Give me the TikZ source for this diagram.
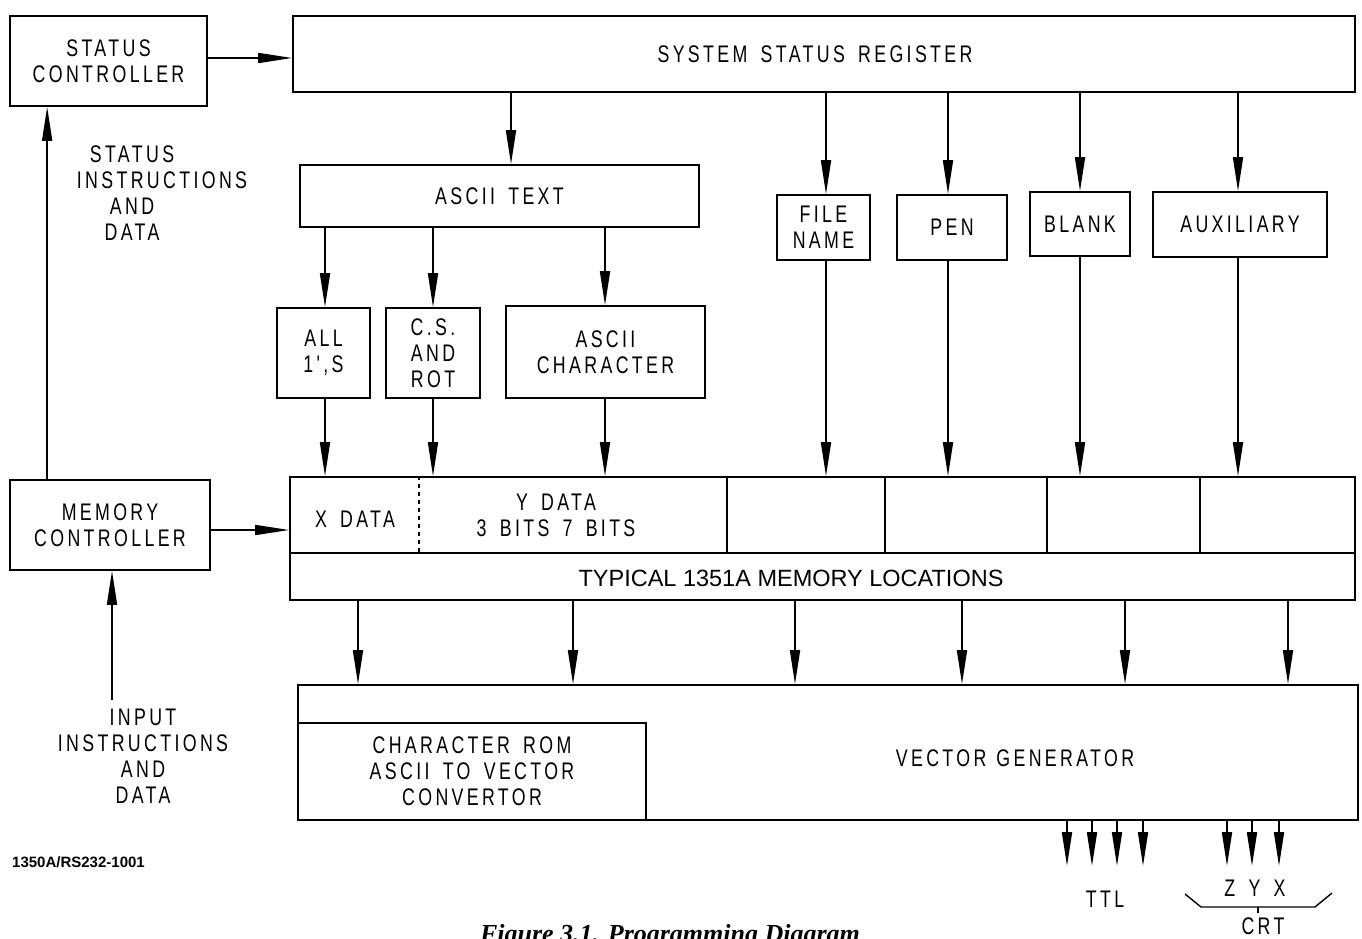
\documentclass[tikz,border=0pt]{standalone}
\usepackage{fontspec}
\usetikzlibrary{arrows.meta}
\newfontfamily\letfont[FakeStretch=0.74,LetterSpace=14,WordSpace=1.6]{Liberation Sans}
\newfontfamily\helvfont{Liberation Sans}
\newfontfamily\capfont{Liberation Serif}
\newcommand\lbl{\letfont\fontsize{24}{26}\selectfont}
\begin{document}
\begin{tikzpicture}[x=1pt,y=-1pt,
  box/.style={draw,line width=1.7pt,inner sep=0pt,align=center,font=\lbl},
  arr/.style={line width=1.7pt,-{Triangle[length=34pt,width=10pt]}},
  txt/.style={align=center,font=\lbl,inner sep=0pt}]
\useasboundingbox (0,0) rectangle (1362,939);
% top row
\node[box,minimum width=197pt,minimum height=90pt] (sc) at (108.5,61) {STATUS\\CONTROLLER};
\node[box,minimum width=1062pt,minimum height=76pt] (ssr) at (824,54) {};
\node[txt] (ssrt) at (815,54) {SYSTEM STATUS REGISTER};
\draw[arr] (sc.east |- 0,58) -- (ssr.west |- 0,58);
% second level
\node[box,minimum width=399pt,minimum height=62pt] (at) at (499.5,196) {ASCII TEXT};
\node[box,minimum width=93pt,minimum height=65pt] (fn) at (823.5,227.5) {FILE\\NAME};
\node[box,minimum width=110pt,minimum height=65pt] (pen) at (952,227.5) {PEN};
\node[box,minimum width=100pt,minimum height=64pt] (blank) at (1080,224) {BLANK};
\node[box,minimum width=174pt,minimum height=65pt] (aux) at (1240,224.5) {AUXILIARY};
\draw[arr] (ssr.south -| 511,0) -- (at.north -| 511,0);
\draw[arr] (ssr.south -| 826,0) -- (fn.north -| 826,0);
\draw[arr] (ssr.south -| 948,0) -- (pen.north -| 948,0);
\draw[arr] (ssr.south -| 1080,0) -- (blank.north -| 1080,0);
\draw[arr] (ssr.south -| 1238,0) -- (aux.north -| 1238,0);
% third level
\node[box,minimum width=93pt,minimum height=90pt] (all) at (323.5,353) {ALL\\1',S};
\node[box,minimum width=94pt,minimum height=90pt] (cs) at (433,353) {C.S.\\AND\\ROT};
\node[box,minimum width=199pt,minimum height=92pt] (ac) at (605.5,352) {ASCII\\CHARACTER};
\draw[arr] (at.south -| 325,0) -- (all.north -| 325,0);
\draw[arr] (at.south -| 433,0) -- (cs.north -| 433,0);
\draw[arr] (at.south -| 605,0) -- (ac.north -| 605,0);
% memory row
\node[box,minimum width=437pt,minimum height=76pt] (xd) at (508.5,515) {};
\node[box,minimum width=158pt,minimum height=76pt] (c1) at (806,515) {};
\node[box,minimum width=162pt,minimum height=76pt] (c2) at (966,515) {};
\node[box,minimum width=153pt,minimum height=76pt] (c3) at (1123.5,515) {};
\node[box,minimum width=155pt,minimum height=76pt] (c4) at (1277.5,515) {};
\node[box,minimum width=1065pt,minimum height=47pt] (typ) at (822.5,576.5) {};
\node[inner sep=0pt,font=\helvfont\fontsize{23.5}{26}\selectfont] (typt) at (791,578) {TYPICAL 1351A MEMORY LOCATIONS};
\draw[line width=1.4pt,dash pattern=on 4pt off 4pt] (xd.north -| 419,0) -- (xd.south -| 419,0);
\node[txt] (xdt) at (355,519) {X DATA};
\node[txt] (ydt) at (556,515) {Y DATA\\3 BITS 7 BITS};
\draw[arr] (all.south -| 325,0) -- (xd.north -| 325,0);
\draw[arr] (cs.south -| 433,0) -- (xd.north -| 433,0);
\draw[arr] (ac.south -| 605,0) -- (xd.north -| 605,0);
\draw[arr] (fn.south -| 826,0) -- (c1.north -| 826,0);
\draw[arr] (pen.south -| 948,0) -- (c2.north -| 948,0);
\draw[arr] (blank.south -| 1080,0) -- (c3.north -| 1080,0);
\draw[arr] (aux.south -| 1238,0) -- (c4.north -| 1238,0);
% memory controller
\node[box,minimum width=200pt,minimum height=90pt] (mc) at (110,525) {MEMORY\\CONTROLLER};
\draw[arr] (mc.east |- 0,530) -- (xd.west |- 0,530);
\draw[arr] ([xshift=38pt]mc.north west) -- ([xshift=38pt]sc.south west);
\coordinate (inp) at (112,700);
\draw[arr] (inp) -- (mc.south -| inp);
\node[txt] (stlbl) at (132,193) {STATUS\\\hspace*{60pt}INSTRUCTIONS\\AND\\DATA};
\node[txt] (inlbl) at (143,756) {INPUT\\INSTRUCTIONS\\AND\\DATA};
% vector generator
\node[box,minimum width=1060pt,minimum height=135pt] (vg) at (828,752.5) {};
\node[box,minimum width=348pt,minimum height=97pt] (rom) at (472,771.5) {CHARACTER ROM\\ASCII TO VECTOR\\CONVERTOR};
\node[txt] (vgt) at (1015,758) {VECTOR\hspace{10pt}GENERATOR};
\foreach \xx in {358,573,795,962,1125,1288}
  \draw[arr] (typ.south -| \xx,0) -- (vg.north -| \xx,0);
% outputs
\foreach \xx/\nm in {1067/t1,1092/t2,1117/t3,1143/t4,1227/r1,1252/r2,1279/r3} {
  \coordinate (\nm) at (\xx,866);
  \draw[arr] (vg.south -| \nm) -- (\nm);
}
\node[txt] (ttl) at (1105,899) {TTL};
\node[txt] (zyx) at (1255,888) {Z Y X};
\draw[line width=1.4pt] (1185,894) -- (1201,907) -- (1315,907) -- (1332,893);
\draw[line width=1.4pt] (1258,907) -- (1258,913);
\node[txt] (crt) at (1263,926) {CRT};
% footer
\node[anchor=base west,inner sep=0pt,font=\helvfont\bfseries\fontsize{15}{17}\selectfont] (code) at (12,867) {1350A/RS232-1001};
\node[anchor=base,inner sep=0pt,font=\capfont\bfseries\itshape\fontsize{26}{30}\selectfont] (cap) at (670,942) {Figure 3.1. Programming Diagram};
\end{tikzpicture}
\end{document}
